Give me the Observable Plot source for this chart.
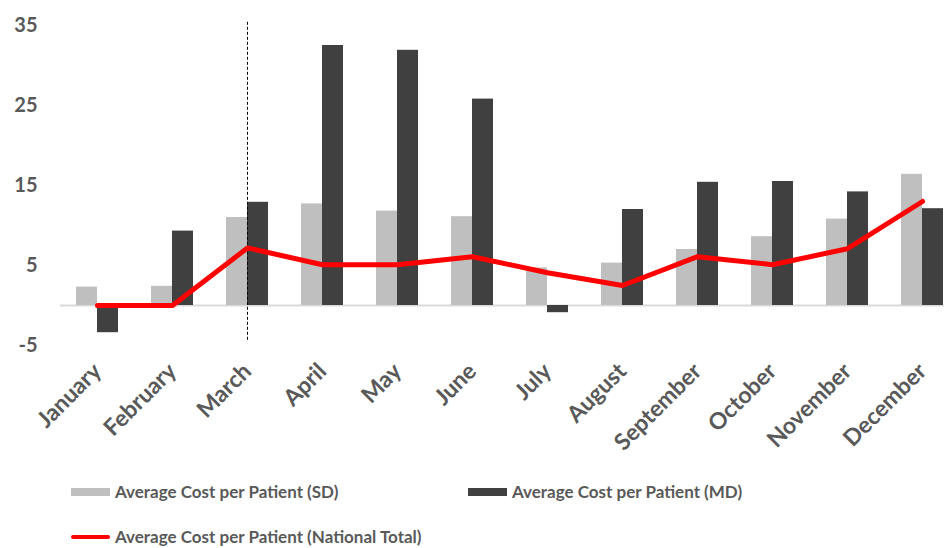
<!DOCTYPE html>
<html>
<head>
<meta charset="utf-8">
<script src="https://cdn.jsdelivr.net/npm/d3@7"></script>
<script src="https://cdn.jsdelivr.net/npm/@observablehq/plot@0.6"></script>
<style>
  html, body { margin: 0; padding: 0; background: #fff; }
  #wrap { position: relative; width: 944px; height: 548px; overflow: hidden; font-family: Lato, "Noto Sans", sans-serif; }
  #chart { position: absolute; left: 0; top: 0; }
  .key { position: absolute; font-size: 17px; font-weight: 700; color: #595959; white-space: nowrap; line-height: 1; }
  .sw { position: absolute; }
</style>
</head>
<body>
<div id="wrap">
  <div id="chart"></div>
</div>
<script>
const months = ["January", "February", "March", "April", "May", "June", "July", "August", "September", "October", "November", "December"];
const costSD = [2.3, 2.4, 11.0, 12.7, 11.8, 11.1, 4.7, 5.3, 7.0, 8.6, 10.8, 16.4];
const costMD = [-3.4, 9.3, 12.9, 32.5, 31.9, 25.8, -0.9, 12.0, 15.4, 15.5, 14.2, 12.1];
const costNational = [0, 0, 7.2, 5.1, 5.1, 6.1, 4.1, 2.5, 6.1, 5.1, 7.1, 13.0];
const yTicks = [-5, 5, 15, 25, 35];
const markerMonth = "March";
const seriesNames = ["Average Cost per Patient (SD)", "Average Cost per Patient (MD)", "Average Cost per Patient (National Total)"];

const sd = months.map((m, i) => ({month: m, value: costSD[i]}));
const md = months.map((m, i) => ({month: m, value: costMD[i]}));
const nat = months.map((m, i) => ({month: m, value: costNational[i]}));

const textColor = "#595959";

const chart = Plot.plot({
  width: 944,
  height: 470,
  marginLeft: 60,
  marginRight: 0,
  marginTop: 0,
  marginBottom: 112,
  style: {fontFamily: "Lato, 'Noto Sans', sans-serif", background: "#fff"},
  x: {domain: months, range: [59.5, 959.5], paddingInner: 0.44, paddingOuter: 0.22, align: 0.5},
  y: {domain: [-5, 35], range: [345, 25]},
  marks: [
    Plot.ruleY([0], {stroke: "#d9d9d9", strokeWidth: 2}),
    Plot.barY(sd, {x: "month", y: "value", fill: "#bfbfbf", insetRight: 21}),
    Plot.barY(md, {x: "month", y: "value", fill: "#404040", insetLeft: 21}),
    Plot.ruleX([markerMonth], {x: d => d, y1: 35.4, y2: -4.6, stroke: "#000", strokeWidth: 1, strokeDasharray: "3,2"}),
    Plot.lineY(nat, {x: "month", y: "value", stroke: "#ff0000", strokeWidth: 5, strokeLinejoin: "round"}),
    Plot.axisY({ticks: yTicks, tickFormat: d => String(d), tickSize: 0, tickPadding: 23, fontSize: 20, fontWeight: 700, fill: textColor, label: null}),
    Plot.axisX({tickSize: 0, tickRotate: -45, tickPadding: 9, fontSize: 23, fontWeight: 700, fill: textColor, label: null})
  ]
});
document.getElementById("chart").appendChild(chart);

// legend below the plot
const wrap = document.getElementById("wrap");
const legendItems = [
  {label: seriesNames[0], kind: "box", color: "#bfbfbf", x: 71, y: 492},
  {label: seriesNames[1], kind: "box", color: "#404040", x: 468, y: 492},
  {label: seriesNames[2], kind: "line", color: "#ff0000", x: 71, y: 537}
];
for (const it of legendItems) {
  const sw = document.createElement("div");
  sw.className = "sw";
  sw.style.left = it.x + "px";
  sw.style.width = "39px";
  sw.style.background = it.color;
  if (it.kind === "box") { sw.style.top = (it.y - 4) + "px"; sw.style.height = "8px"; }
  else { sw.style.top = (it.y - 2) + "px"; sw.style.height = "4px"; sw.style.borderRadius = "2px"; }
  wrap.appendChild(sw);
  const t = document.createElement("div");
  t.className = "key";
  t.textContent = it.label;
  t.style.left = (it.x + 44) + "px";
  t.style.top = (it.y - 9) + "px";
  wrap.appendChild(t);
}
</script>
</body>
</html>
